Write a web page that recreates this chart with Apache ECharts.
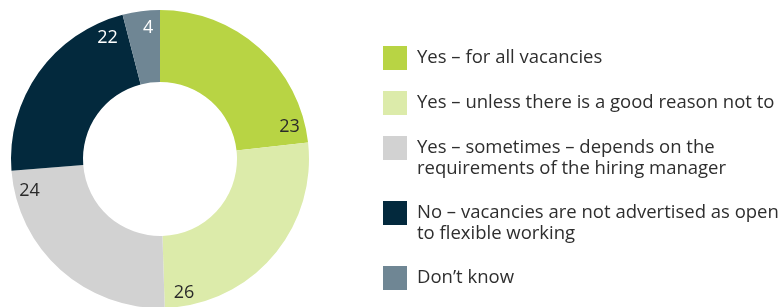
<!DOCTYPE html>
<html><head><meta charset="utf-8">
<script src="https://cdn.jsdelivr.net/npm/echarts@6/dist/echarts.min.js"></script>
<style>html,body{margin:0;padding:0;background:#fff}#c{width:781px;height:307px}</style>
</head><body><div id="c"></div>
<script>
const categories = [
  'Yes – for all vacancies',
  'Yes – unless there is a good reason not to',
  'Yes – sometimes – depends on the\nrequirements of the hiring manager',
  'No – vacancies are not advertised as open\nto flexible working',
  'Don’t know'
];
const values = [23, 26, 24, 22, 4];
const colors = ['#b8d444', '#dcebaa', '#d2d2d2', '#03293d', '#6f8694'];
const labelColors = ['#2a2a2a', '#2a2a2a', '#2a2a2a', '#ffffff', '#ffffff'];
const legendTops = [46, 91, 136, 201, 266];

const FONT = 'Open Sans';
const LH = 21.5;

const mainData = categories.map((n, i) => ({ name: n, value: values[i], itemStyle: { color: colors[i] } }));

// helper ring for label placement near the end of each slice
const helperData = [];
values.forEach((v, i) => {
  const k = Math.min(2.35, v * 0.35);
  helperData.push({ name: 'h' + i + 'a', value: v - 2 * k, label: { show: false } });
  helperData.push({ name: 'h' + i + 'b', value: 2 * k, label: { show: true, formatter: String(v), color: labelColors[i] } });
});

// one legend block per category so multi-line entries keep the swatch on the first line
const legends = categories.map((n, i) => {
  const multi = n.indexOf('\n') >= 0;
  return {
    orient: 'vertical',
    left: 383,
    top: legendTops[i],
    padding: 0,
    itemWidth: 24,
    itemHeight: multi ? 44 : 24,
    icon: multi ? 'path://M0,0h24v24h-24zM0,44h0.01' : 'rect',
    symbolKeepAspect: false,
    selectedMode: false,
    data: [n],
    textStyle: { fontFamily: FONT, fontSize: 18.5, color: '#2e2e2e', lineHeight: LH, padding: [0, 0, 0, 5] }
  };
});

const chart = echarts.init(document.getElementById('c'), null, { renderer: 'canvas' });
chart.setOption({
  animation: false,
  legend: legends,
  series: [
    {
      type: 'pie',
      name: 'main',
      center: [160, 159],
      radius: [77, 149],
      startAngle: 90,
      clockwise: true,
      silent: true,
      label: { show: false },
      labelLine: { show: false },
      emphasis: { disabled: true },
      itemStyle: { borderWidth: 0 },
      data: mainData
    },
    {
      type: 'pie',
      name: 'labels',
      center: [160, 159],
      radius: [113, 149],
      startAngle: 90,
      clockwise: true,
      silent: true,
      avoidLabelOverlap: false,
      itemStyle: { color: 'rgba(0,0,0,0)', borderWidth: 0 },
      label: { position: 'inside', fontFamily: FONT, fontSize: 18, rotate: 0 },
      labelLine: { show: false },
      labelLayout: { dy: 2 },
      emphasis: { disabled: true },
      data: helperData
    }
  ]
});
</script></body></html>
